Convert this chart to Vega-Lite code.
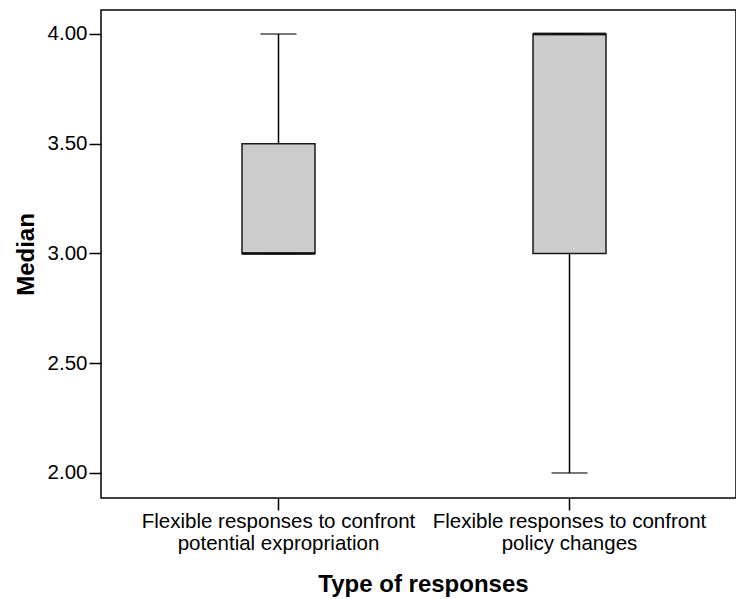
{
  "$schema": "https://vega.github.io/schema/vega-lite/v6.json",
  "width": 635,
  "height": 488,
  "autosize": {"type": "none"},
  "padding": {"left": 101, "top": 10, "right": 0, "bottom": 101},
  "background": "white",
  "config": {
    "view": {"stroke": "black", "strokeWidth": 1.5},
    "font": "Liberation Sans",
    "axis": {
      "grid": false,
      "domain": false,
      "tickColor": "black",
      "tickWidth": 1.5,
      "tickSize": 12,
      "labelColor": "black",
      "labelFont": "Liberation Sans",
      "labelFontSize": 20.5,
      "labelLimit": 0,
      "labelOverlap": false,
      "titleFont": "Liberation Sans",
      "titleFontSize": 24,
      "titleFontWeight": "bold",
      "titleColor": "black"
    }
  },
  "data": {
    "values": [
      {"type": "Flexible responses to confront potential expropriation", "min": 3, "q1": 3, "median": 3, "q3": 3.5, "max": 4},
      {"type": "Flexible responses to confront policy changes", "min": 2, "q1": 3, "median": 4, "q3": 4, "max": 4}
    ]
  },
  "encoding": {
    "x": {
      "field": "type",
      "type": "nominal",
      "sort": ["Flexible responses to confront potential expropriation", "Flexible responses to confront policy changes"],
      "scale": {"paddingInner": 0, "paddingOuter": 0.091, "align": 0.604},
      "axis": {
        "title": "Type of responses",
        "labelAngle": 0,
        "labelPadding": 1,
        "labelLineHeight": 22.5,
        "labelLimit": 0,
        "labelOverlap": false,
        "labelExpr": "[substring(datum.label, 0, indexof(datum.label, 'confront') + 8), substring(datum.label, indexof(datum.label, 'confront') + 9)]",
        "titlePadding": 18,
        "titleX": 322,
        "titleAnchor": "start",
        "titleAlign": "center"
      }
    }
  },
  "layer": [
    {
      "mark": {"type": "rule", "color": "black", "strokeWidth": 1.5},
      "encoding": {
        "y": {
          "field": "min",
          "type": "quantitative",
          "scale": {"domain": [1.886, 4.109], "nice": false, "zero": false},
          "axis": {
            "title": "Median",
            "values": [2, 2.5, 3, 3.5, 4],
            "format": ".2f",
            "labelPadding": 2,
            "titlePadding": 9
          }
        },
        "y2": {"field": "max"}
      }
    },
    {
      "mark": {"type": "tick", "color": "black", "size": 36, "thickness": 1.5, "orient": "horizontal"},
      "encoding": {"y": {"field": "max", "type": "quantitative"}}
    },
    {
      "mark": {"type": "tick", "color": "black", "size": 36, "thickness": 1.5, "orient": "horizontal"},
      "encoding": {"y": {"field": "min", "type": "quantitative"}}
    },
    {
      "mark": {"type": "bar", "size": 73, "fill": "#cccccc", "stroke": "#1a1a1a", "strokeWidth": 1.5},
      "encoding": {
        "y": {"field": "q1", "type": "quantitative"},
        "y2": {"field": "q3"}
      }
    },
    {
      "mark": {"type": "tick", "color": "black", "size": 73, "thickness": 3, "orient": "horizontal"},
      "encoding": {"y": {"field": "median", "type": "quantitative"}}
    }
  ]
}
